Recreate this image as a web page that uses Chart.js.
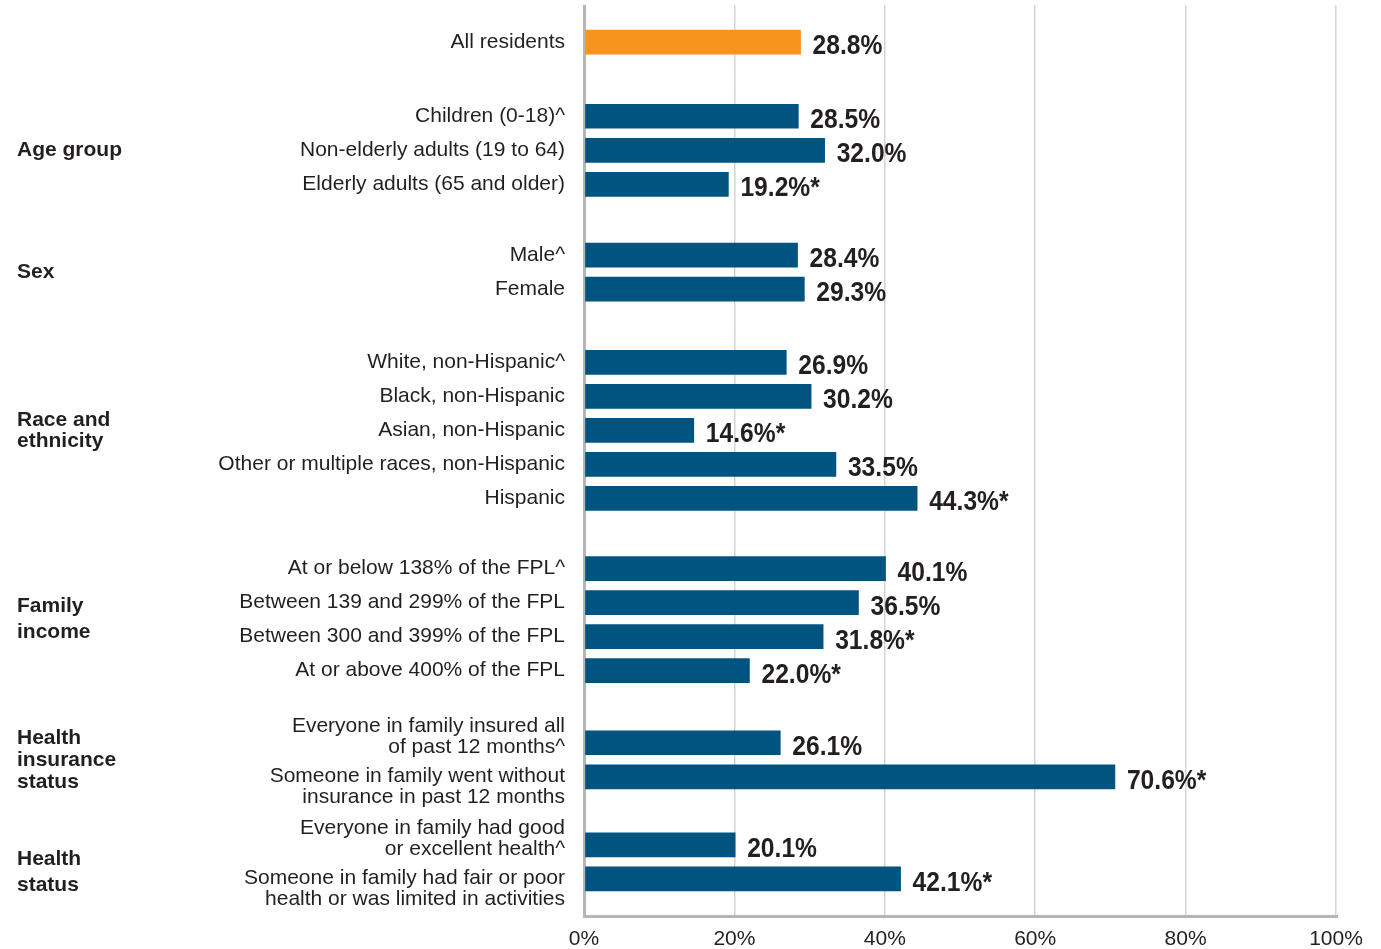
<!DOCTYPE html>
<html>
<head>
<meta charset="utf-8">
<script src="https://cdn.jsdelivr.net/npm/chart.js@4"></script>
<style>
  html, body { margin: 0; padding: 0; background: #ffffff; }
  canvas { display: block; }
</style>
</head>
<body>
<canvas id="chart" width="1381" height="949"></canvas>
<script>
// Group headings (one entry per line) and how many rows each group holds
const groupTitles = [
  [],
  ['Age group'],
  ['Sex'],
  ['Race and', 'ethnicity'],
  ['Family', 'income'],
  ['Health', 'insurance', 'status'],
  ['Health', 'status']
];
const groupSizes = [1, 3, 2, 5, 4, 2, 2];

// Row labels (one entry per line)
const categories = [
  ['All residents'],
  ['Children (0-18)^'],
  ['Non-elderly adults (19 to 64)'],
  ['Elderly adults (65 and older)'],
  ['Male^'],
  ['Female'],
  ['White, non-Hispanic^'],
  ['Black, non-Hispanic'],
  ['Asian, non-Hispanic'],
  ['Other or multiple races, non-Hispanic'],
  ['Hispanic'],
  ['At or below 138% of the FPL^'],
  ['Between 139 and 299% of the FPL'],
  ['Between 300 and 399% of the FPL'],
  ['At or above 400% of the FPL'],
  ['Everyone in family insured all', 'of past 12 months^'],
  ['Someone in family went without', 'insurance in past 12 months'],
  ['Everyone in family had good', 'or excellent health^'],
  ['Someone in family had fair or poor', 'health or was limited in activities']
];

// Share of residents, percent
const values = [28.8, 28.5, 32.0, 19.2, 28.4, 29.3, 26.9, 30.2, 14.6, 33.5, 44.3, 40.1, 36.5, 31.8, 22.0, 26.1, 70.6, 20.1, 42.1];
// Marked with an asterisk
const significant = [false, false, false, true, false, false, false, false, true, false, true, false, false, true, true, false, true, false, true];

const xTickValues = [0, 20, 40, 60, 80, 100];
const xTickLabels = ['0%', '20%', '40%', '60%', '80%', '100%'];

// ---- layout helpers ----
const ORANGE = '#f7941e';
const BLUE = '#00547f';
const TEXT = '#231f20';
// distance (in rows) from the last row of one group to the first row of the next
const groupGaps = [0, 2.18, 2.08, 2.15, 2.06, 2.12, 2.0];

const rowPos = [];
const rowGroup = [];
const rowInGroup = [];
(function () {
  let p = 0;
  groupSizes.forEach((n, g) => {
    if (g > 0) p += groupGaps[g] - 1;
    for (let i = 0; i < n; i++) {
      rowPos.push(p);
      rowGroup.push(g);
      rowInGroup.push(i);
      p += 1;
    }
  });
})();

const groupLineHeights = [22, 22, 22, 21, 26, 22, 26];
const groupNudge = [0, 0, 0, 0, 0, 0, 10];

const labelPlugin = {
  id: 'rowLabels',
  afterDatasetsDraw(chart) {
    const ctx = chart.ctx;
    const meta = chart.getDatasetMeta(0);
    ctx.save();

    // values at bar ends, in a condensed bold face
    ctx.fillStyle = TEXT;
    ctx.textAlign = 'left';
    ctx.textBaseline = 'alphabetic';
    ctx.font = 'bold 28px "Liberation Sans", Arial, sans-serif';
    meta.data.forEach((bar, i) => {
      const txt = values[i].toFixed(1) + '%' + (significant[i] ? '*' : '');
      ctx.save();
      ctx.translate(bar.x + 12, bar.y + 12);
      ctx.scale(0.88, 1);
      ctx.fillText(txt, 0, 0);
      ctx.restore();
    });

    ctx.textBaseline = 'middle';

    // row labels
    ctx.font = '21px "Liberation Sans", Arial, sans-serif';
    ctx.textAlign = 'right';
    const lh = 21;
    meta.data.forEach((bar, i) => {
      const lines = categories[i];
      let cy = bar.y;
      if (lines.length > 1) cy += rowInGroup[i] === 0 ? -6 : 10;
      const top = cy - (lines.length - 1) * lh / 2;
      lines.forEach((ln, k) => ctx.fillText(ln, 565, top + k * lh));
    });

    // group headings
    ctx.font = 'bold 21px "Liberation Sans", Arial, sans-serif';
    ctx.textAlign = 'left';
    groupTitles.forEach((lines, g) => {
      if (!lines.length) return;
      const ys = meta.data.filter((b, i) => rowGroup[i] === g).map(b => b.y);
      const cy = (Math.min(...ys) + Math.max(...ys)) / 2 + groupNudge[g];
      const h = groupLineHeights[g];
      const top = cy - (lines.length - 1) * h / 2;
      lines.forEach((ln, k) => ctx.fillText(ln, 17, top + k * h));
    });
    ctx.restore();
  }
};

new Chart(document.getElementById('chart'), {
  type: 'bar',
  data: {
    datasets: [{
      data: values.map((v, i) => ({ x: v, y: rowPos[i] })),
      backgroundColor: values.map((v, i) => (i === 0 ? ORANGE : BLUE)),
      borderWidth: 0,
      barThickness: 24
    }]
  },
  options: {
    indexAxis: 'y',
    responsive: false,
    animation: false,
    layout: { padding: { left: 584, right: 45, top: 5, bottom: 0 } },
    plugins: { legend: { display: false }, tooltip: { enabled: false } },
    scales: {
      x: {
        type: 'linear',
        position: 'bottom',
        min: 0,
        max: 100,
        afterBuildTicks: (scale) => { scale.ticks = xTickValues.map(v => ({ value: v })); },
        afterFit: (scale) => { scale.height = 33; },
        ticks: {
          padding: 13,
          color: TEXT,
          font: { family: '"Liberation Sans", Arial, sans-serif', size: 21, lineHeight: 1.0 },
          maxRotation: 0,
          callback: (v) => xTickLabels[xTickValues.indexOf(v)]
        },
        grid: {
          drawTicks: false,
          tickLength: 0,
          color: (c) => (c.tick && c.tick.value === 0 ? '#b5b5b5' : '#d4d4d4'),
          lineWidth: (c) => (c.tick && c.tick.value === 0 ? 3 : 1.5)
        },
        border: { color: '#b5b5b5', width: 3 }
      },
      y: {
        type: 'linear',
        reverse: true,
        offset: false,
        min: -1.09,
        max: 25.68,
        display: false
      }
    }
  },
  plugins: [labelPlugin]
});
</script>
</body>
</html>
